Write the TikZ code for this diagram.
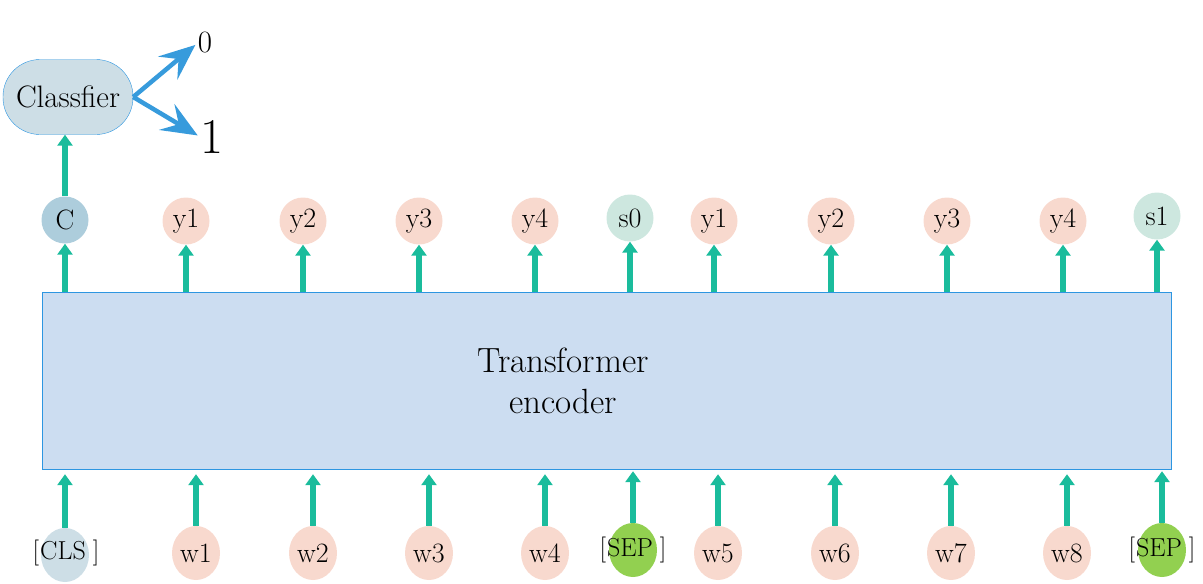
\documentclass[tikz,border=0pt]{standalone}
\usepackage{fontspec}
\usepackage{tikz}
\usetikzlibrary{arrows.meta,shapes.geometric,positioning}
\definecolor{encfill}{RGB}{204,221,241}
\definecolor{encline}{RGB}{45,150,225}
\definecolor{clsfill}{RGB}{205,222,230}
\definecolor{cfill}{RGB}{173,205,220}
\definecolor{yfill}{RGB}{248,217,206}
\definecolor{sfill}{RGB}{205,231,223}
\definecolor{sepfill}{RGB}{146,208,80}
\definecolor{upteal}{RGB}{26,188,156}
\definecolor{outblue}{RGB}{55,155,220}
\tikzset{>={Triangle[width=15pt,length=11pt]}}

\begin{document}
\begin{tikzpicture}[x=1pt,y=-1pt,
  tok/.style={circle,minimum size=47pt,inner sep=0pt,font=\fontsize{28}{30}\selectfont},
  wtok/.style={ellipse,minimum width=48pt,minimum height=54pt,inner sep=0pt,font=\fontsize{28}{30}\selectfont},
  lbl/.style={inner sep=0pt,font=\fontsize{26}{28}\selectfont},
  up/.style={->,line width=5.5pt,draw=upteal},
  outarrow/.style={-{Stealth[width=30pt,length=36pt,inset=14pt]},line width=4.5pt,draw=outblue,shorten >=3pt}]

  \useasboundingbox (0,0) rectangle (1203,584);

  \newcommand\topY{221}
  \newcommand\botY{553}

  %% encoder block
  \node[draw=encline,fill=encfill,minimum width=1129pt,minimum height=177pt,inner sep=0pt] (enc) at (606.5,380.5) {};
  \node[align=center,font=\fontsize{35}{41}\selectfont] (enctxt) at (563,381) {Transformer\\encoder};

  %% classifier and its two outputs
  \node[draw=encline,fill=clsfill,rounded corners=37pt,minimum width=130pt,minimum height=75pt,inner sep=0pt,font=\fontsize{31}{33}\selectfont] (clf) at (68,97) {Classfier};
  \node[inner sep=0pt,font=\fontsize{31}{33}\selectfont] (out0) at (205,43) {0};
  \node[inner sep=0pt,font=\fontsize{50}{52}\selectfont] (out1) at (212,137) {1};
  \draw[outarrow] (clf.east) -- (out0.west);
  \draw[outarrow] (clf.east) -- (out1.west);

  %% outputs on top
  \node[tok,fill=cfill] (c) at (65,220) {C};
  \node[tok,fill=yfill] (ya) at (186,\topY) {y1};
  \node[tok,fill=yfill] (yb) at (303,\topY) {y2};
  \node[tok,fill=yfill] (yc) at (419,\topY) {y3};
  \node[tok,fill=yfill] (yd) at (535,\topY) {y4};
  \node[tok,fill=sfill] (s0) at (630,218) {s0};
  \node[tok,fill=yfill] (ye) at (714,\topY) {y1};
  \node[tok,fill=yfill] (yf) at (831,\topY) {y2};
  \node[tok,fill=yfill] (yg) at (947,\topY) {y3};
  \node[tok,fill=yfill] (yh) at (1063,\topY) {y4};
  \node[tok,fill=sfill] (s1) at (1157,216) {s1};

  \draw[up] (c) -- (c |- clf.south); % C -> classifier
  \draw[up] (c |- enc.north) -- (c);
  \draw[up] (ya |- enc.north) -- (ya);
  \draw[up] (yb |- enc.north) -- (yb);
  \draw[up] (yc |- enc.north) -- (yc);
  \draw[up] (yd |- enc.north) -- (yd);
  \draw[up] (s0 |- enc.north) -- (s0);
  \draw[up] (ye |- enc.north) -- (ye);
  \draw[up] (yf |- enc.north) -- (yf);
  \draw[up] (yg |- enc.north) -- (yg);
  \draw[up] (yh |- enc.north) -- (yh);
  \draw[up] (s1 |- enc.north) -- (s1);

  %% inputs at the bottom
  \node[wtok,fill=clsfill] (cls) at (65,555) {};
  \node[lbl] (clstxt) at (66,553) {[\hspace{1pt}CLS\hspace{7pt}]};
  \node[wtok,fill=yfill] (wa) at (196,\botY) {w1};
  \node[wtok,fill=yfill] (wb) at (313,\botY) {w2};
  \node[wtok,fill=yfill] (wc) at (429,\botY) {w3};
  \node[wtok,fill=yfill] (wd) at (545,\botY) {w4};
  \node[wtok,fill=sepfill] (sepa) at (633,550) {};
  \node[lbl] (sepatxt) at (sepa) {[\hspace{1pt}SEP\hspace{7pt}]};
  \node[wtok,fill=yfill] (we) at (718,\botY) {w5};
  \node[wtok,fill=yfill] (wf) at (835,\botY) {w6};
  \node[wtok,fill=yfill] (wg) at (951,\botY) {w7};
  \node[wtok,fill=yfill] (wh) at (1067,\botY) {w8};
  \node[wtok,fill=sepfill] (sepb) at (1162,550) {};
  \node[lbl] (sepbtxt) at (sepb) {[\hspace{1pt}SEP\hspace{7pt}]};

  \draw[up,shorten >=5pt] (cls) -- (cls |- enc.south);
  \draw[up,shorten >=5pt] (wa) -- (wa |- enc.south);
  \draw[up,shorten >=5pt] (wb) -- (wb |- enc.south);
  \draw[up,shorten >=5pt] (wc) -- (wc |- enc.south);
  \draw[up,shorten >=5pt] (wd) -- (wd |- enc.south);
  \draw[up,shorten >=2pt] (sepa) -- (sepa |- enc.south);
  \draw[up,shorten >=5pt] (we) -- (we |- enc.south);
  \draw[up,shorten >=5pt] (wf) -- (wf |- enc.south);
  \draw[up,shorten >=5pt] (wg) -- (wg |- enc.south);
  \draw[up,shorten >=5pt] (wh) -- (wh |- enc.south);
  \draw[up,shorten >=2pt] (sepb) -- (sepb |- enc.south);

\end{tikzpicture}
\end{document}
